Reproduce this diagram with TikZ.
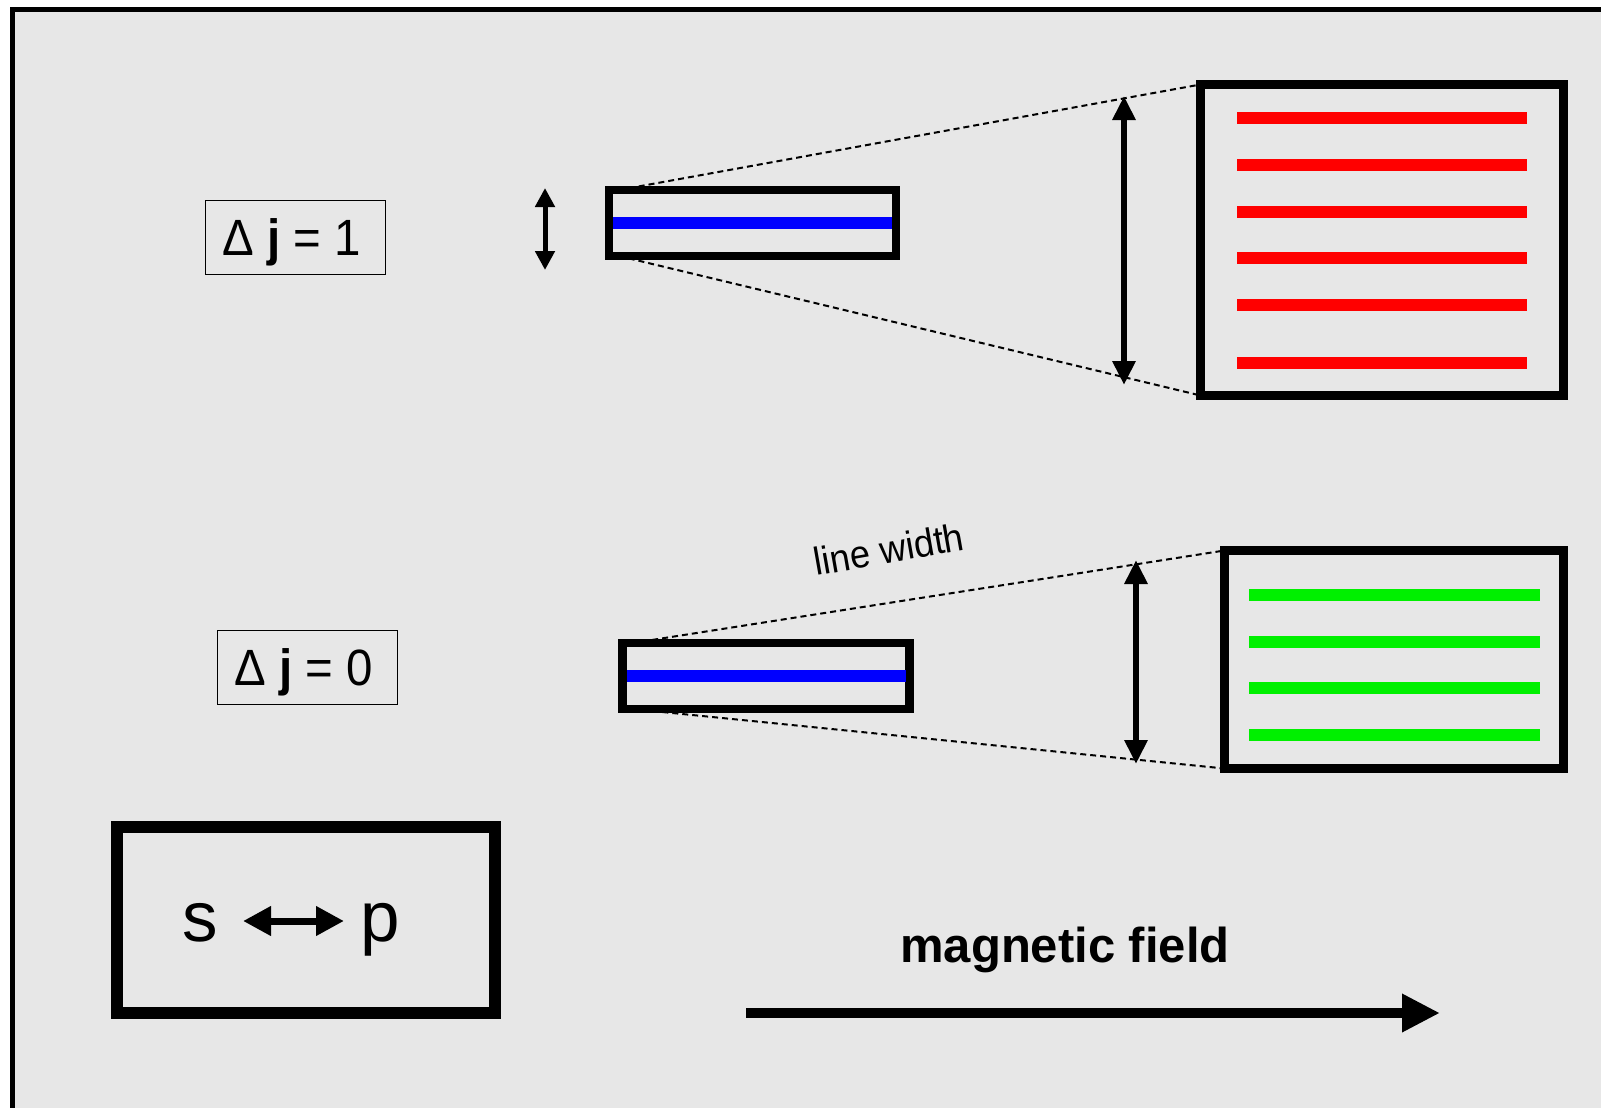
\documentclass[tikz,border=0pt]{standalone}
\usepackage{fontspec}
\setmainfont{Liberation Sans}
\newfontfamily\narrowfont[FakeStretch=0.93]{Liberation Sans}
\newfontfamily\fieldfont[FakeStretch=1.0]{Liberation Sans}
\usetikzlibrary{arrows.meta}
\definecolor{bg}{RGB}{231,231,231}
\definecolor{lred}{RGB}{255,0,0}
\definecolor{lgreen}{RGB}{0,240,0}
\definecolor{lblue}{RGB}{0,0,255}
\begin{document}
\begin{tikzpicture}[x=1pt,y=-1pt,
  labelbox/.style={draw=black, line width=1.5pt, inner sep=0pt, outer sep=0pt, minimum width=180pt, minimum height=74pt},
  labeltext/.style={inner sep=0pt, text height=36.5pt, text depth=0pt, font={\narrowfont\fontsize{51}{60}\selectfont}},
  bandbox/.style={draw=black, line width=8.5pt, inner sep=0pt, outer sep=0pt, minimum width=287pt, minimum height=66pt},
  bigbox/.style={draw=black, line width=9pt, inner sep=0pt, outer sep=0pt},
  blueline/.style={draw=lblue, line width=12pt},
  redline/.style={draw=lred, line width=12pt},
  greenline/.style={draw=lgreen, line width=12pt},
  zoomline/.style={draw=black, line width=2pt, dash pattern=on 6pt off 4pt},
  smallarrow/.style={draw=black, line width=5pt, {Triangle[length=19pt,width=19pt]}-{Triangle[length=19pt,width=19pt]}},
  bigarrow/.style={draw=black, line width=6pt, {Triangle[length=24pt,width=22pt]}-{Triangle[length=24pt,width=22pt]}},
  sparrow/.style={draw=black, line width=7pt, {Triangle[length=28pt,width=28pt]}-{Triangle[length=28pt,width=28pt]}},
  fieldarrow/.style={draw=black, line width=10pt, -{Triangle[length=38pt,width=36pt]}},
  sptext/.style={inner sep=0pt, anchor=base, font={\fontsize{71}{80}\selectfont}}
]
\useasboundingbox (0,0) rectangle (1601,1108);
\fill[white] (0,0) rectangle (1601,1108);
\fill[bg] (12.5,9.5) rectangle (1601,1108);
\draw[line width=5pt, line join=miter] (12.5,1108) -- (12.5,9.5) -- (1601,9.5);

% Delta j = 1 row
\node[labelbox] (lab1) at (295.5,237.5) {};
\node[labeltext] (t1) at ([xshift=-4pt]lab1.center) {Δ \textbf{j} = 1};
\coordinate (sa1t) at (545,188);
\coordinate (sa1b) at (545,270);
\draw[smallarrow] (sa1t) -- (sa1b);
\node[bandbox] (b1) at (752.5,223) {};
\draw[blueline] ([xshift=4pt]b1.west) -- ([xshift=-4pt]b1.east);
\node[bigbox, minimum width=363pt, minimum height=311pt] (z1) at (1382,240) {};
\foreach \yy in {118,165,212,258,305,363} \draw[redline] (1237,\yy) -- (1527,\yy);
\draw[zoomline] ([xshift=10pt]b1.north west) -- (z1.north west);
\draw[zoomline] ([xshift=10pt]b1.south west) -- (z1.south west);
\coordinate (ba1t) at (1124,96);
\coordinate (ba1b) at (1124,385);
\draw[bigarrow] (ba1t) -- (ba1b);

% Delta j = 0 row
\node[labelbox] (lab0) at (307.5,667.5) {};
\node[labeltext] (t0) at ([xshift=-4pt]lab0.center) {Δ \textbf{j} = 0};
\node[bandbox] (b0) at (766,676) {};
\draw[blueline] ([xshift=4pt]b0.west) -- ([xshift=-4pt]b0.east);
\node[bigbox, minimum width=339pt, minimum height=218pt] (z0) at (1394,659.5) {};
\foreach \yy in {595,642,688,735} \draw[greenline] (1249,\yy) -- (1540,\yy);
\draw[zoomline] ([xshift=10pt]b0.north west) -- (z0.north west);
\draw[zoomline] ([xshift=10pt]b0.south west) -- (z0.south west);
\coordinate (ba0t) at (1136,560);
\coordinate (ba0b) at (1136,764);
\draw[bigarrow] (ba0t) -- (ba0b);
\node[rotate=10, inner sep=0pt, font={\narrowfont\fontsize{39}{42}\selectfont}] (lw) at (889,549) {line width};

% s <-> p
\node[draw=black, line width=12pt, inner sep=0pt, outer sep=0pt, minimum width=378pt, minimum height=186pt] (spbox) at (306,920) {};
\node[sptext] (s) at (200,941) {s};
\node[sptext] (p) at (380,941) {p};
\coordinate (spa) at (243,921);
\coordinate (spb) at (344,921);
\draw[sparrow] (spa) -- (spb);

% magnetic field
\node[anchor=base, inner sep=0pt, font={\fieldfont\bfseries\fontsize{49}{56}\selectfont}] (mf) at (1065,962) {magnetic field};
\coordinate (m0) at (746,1013);
\coordinate (m1) at (1440,1013);
\draw[fieldarrow] (m0) -- (m1);
\end{tikzpicture}
\end{document}
